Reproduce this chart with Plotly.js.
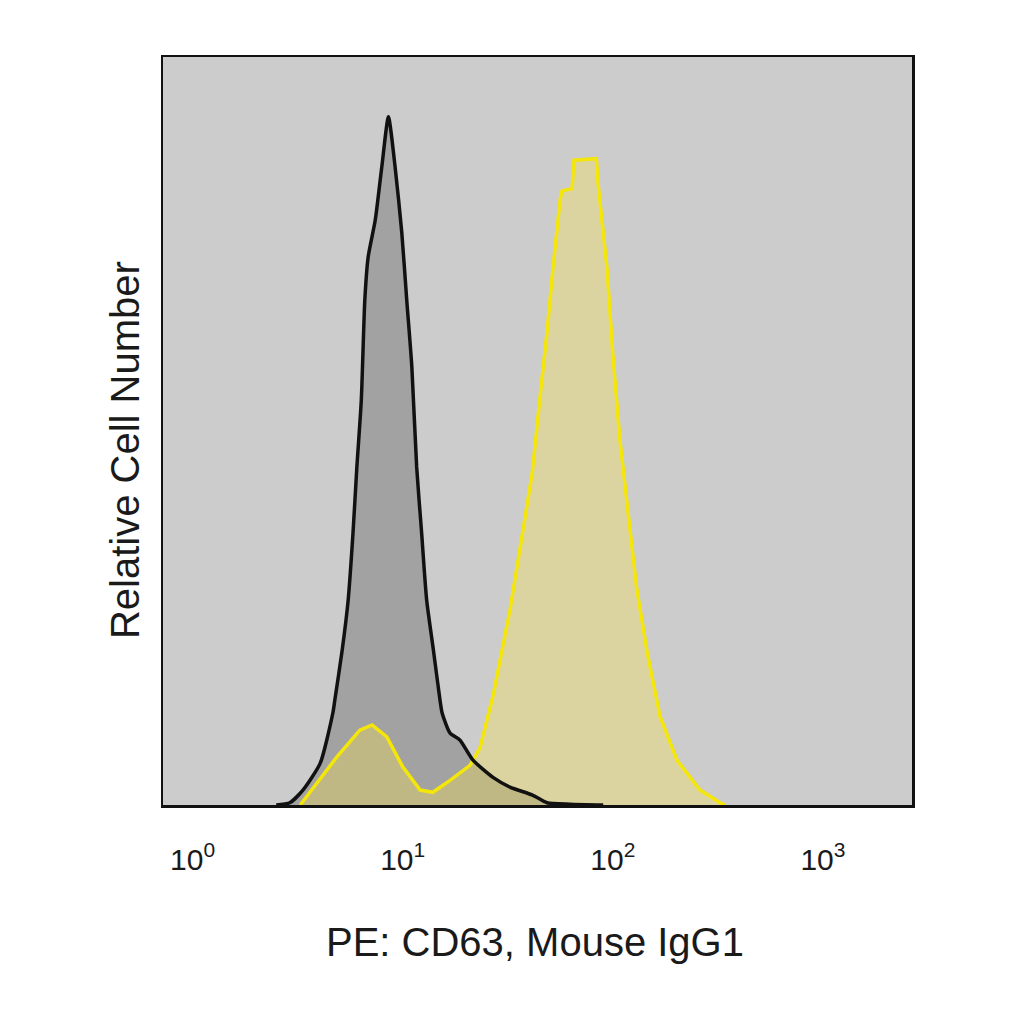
<!DOCTYPE html>
<html>
<head>
<meta charset="utf-8">
<script src="https://cdn.plot.ly/plotly-3.0.1.min.js"></script>
<style>
  html, body { margin: 0; padding: 0; background: #ffffff; }
  #histChart { width: 1024px; height: 1024px; }
</style>
</head>
<body>
<div id="histChart"></div>
<script>
// isotype control (black) and CD63 stained (yellow) histograms
var isotypeX = [2.5, 2.9, 3.35, 4.05, 4.65, 4.75, 5.15, 5.5, 5.8, 6.05, 6.35, 6.6, 6.85, 7.4, 7.95, 8.55,
  9.2, 9.9, 10.45, 11.05, 11.65, 12.3, 13.0, 14.0, 15.05, 15.4, 16.8, 18.7, 21.6, 26.9, 32.4, 41.7, 48.6, 62.5, 90];
var isotypeY = [0, 0.3, 2.0, 5.6, 12.3, 14.0, 20.7, 27.4, 36.4, 45.2, 54.1, 67.5, 73.3, 78.2, 85.3, 92.0,
  85.3, 76.5, 67.5, 58.6, 45.2, 36.4, 27.4, 20.7, 14.0, 12.3, 9.6, 8.7, 6.0, 3.7, 2.4, 1.3, 0.3, 0.1, 0];

var cd63X = [3.25, 4.85, 6.25, 7.15, 8.4, 10.0, 12.1, 13.9, 16.8, 20.9, 23.3, 26.9, 32.4, 36.2, 41.3, 45.0, 48.6,
  51.9, 56.1, 57.3, 64.0, 65.3, 83.5, 85.0, 93.8, 100, 108, 117, 130, 146, 168, 202, 260, 324, 342];
var cd63Y = [0, 6.4, 10.0, 10.7, 9.1, 5.1, 2.0, 1.7, 3.3, 5.3, 7.6, 14.6, 26.1, 34.6, 44.3, 54.5, 63.2,
  71.8, 80.9, 82.1, 82.4, 86.2, 86.4, 83.2, 71.8, 60.3, 48.9, 40.2, 28.9, 20.3, 11.8, 6.0, 2.0, 0.3, 0];

var tickVals = [1, 10, 100, 1000];
var tickText = ["10<sup>0</sup>", "10<sup>1</sup>", "10<sup>2</sup>", "10<sup>3</sup>"];

var isoFill = {
  x: isotypeX, y: isotypeY, type: "scatter", mode: "lines",
  line: { width: 0, color: "rgba(0,0,0,0)", shape: "spline", smoothing: 0.6 },
  fill: "tozeroy", fillcolor: "#a2a2a2",
  hoverinfo: "skip"
};

var cd63 = {
  x: cd63X, y: cd63Y, type: "scatter", mode: "lines",
  line: { color: "#f4e60a", width: 3.5 },
  fill: "tozeroy", fillcolor: "rgba(250,227,78,0.35)"
};

var isoLine = {
  x: isotypeX, y: isotypeY, type: "scatter", mode: "lines",
  line: { color: "#111111", width: 3.5, shape: "spline", smoothing: 0.6 }
};

var layout = {
  width: 1024, height: 1024,
  margin: { l: 163, r: 112, t: 57, b: 219 },
  paper_bgcolor: "#ffffff",
  plot_bgcolor: "#cccccc",
  showlegend: false,
  font: { family: "Liberation Sans, Arial, sans-serif", color: "#1a1a1a" },
  xaxis: {
    type: "log",
    range: [-0.141, 3.424],
    tickvals: tickVals, ticktext: tickText,
    ticks: "", showgrid: false, zeroline: false,
    showline: true, linecolor: "#111111", linewidth: 2.5, mirror: true,
    tickfont: { size: 30, color: "#1a1a1a" },
    ticklabelstandoff: 26
  },
  yaxis: {
    range: [0, 100],
    showticklabels: false, ticks: "", showgrid: false, zeroline: false,
    showline: true, linecolor: "#111111", linewidth: 2.5, mirror: true
  },
  annotations: [
    { text: "PE: CD63, Mouse IgG1", xref: "paper", yref: "paper", x: 0.497, y: -0.183,
      xanchor: "center", yanchor: "middle",
      showarrow: false, font: { size: 40, color: "#1a1a1a" } },
    { text: "Relative Cell Number", xref: "paper", yref: "paper", x: -0.0507, y: 0.4746,
      xanchor: "center", yanchor: "middle",
      textangle: -90, showarrow: false, font: { size: 40, color: "#1a1a1a" } }
  ]
};

Plotly.newPlot("histChart", [isoFill, cd63, isoLine], layout, { displayModeBar: false, staticPlot: true });
</script>
</body>
</html>
